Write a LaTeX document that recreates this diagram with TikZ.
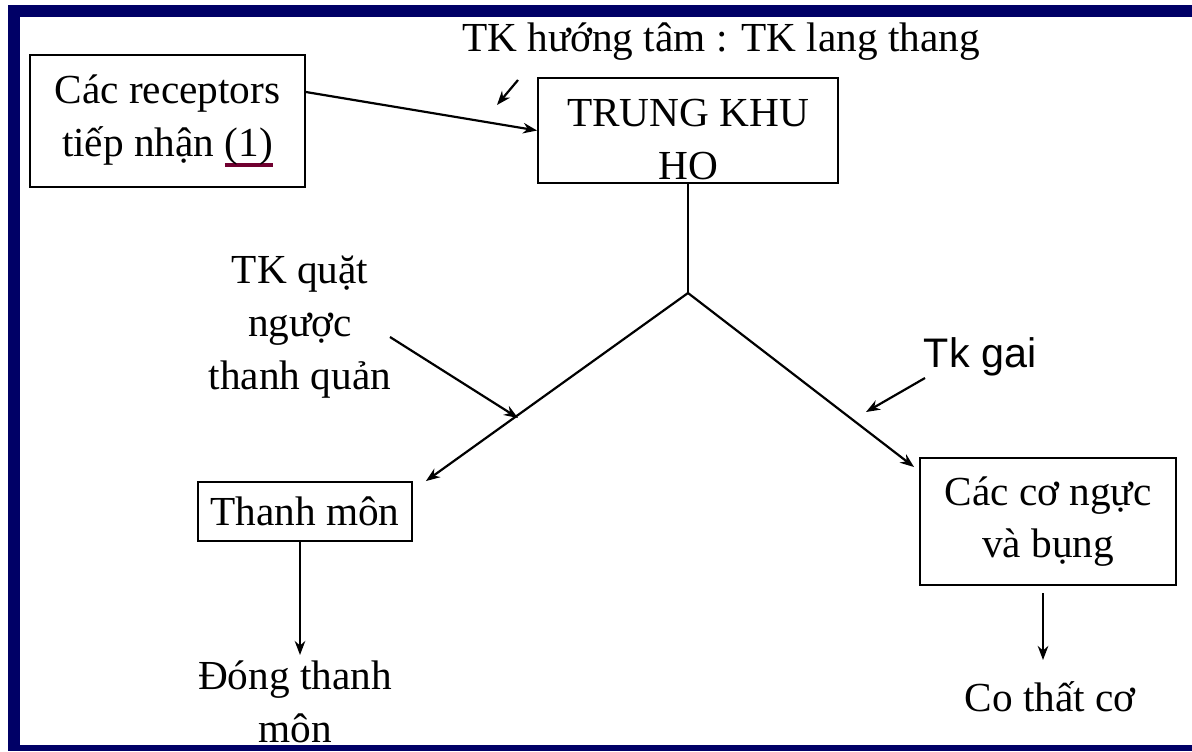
\documentclass[tikz,border=0pt]{standalone}
\usepackage{fontspec}
\setmainfont{Liberation Serif}
\newfontfamily\gaifont{Liberation Sans}
\usetikzlibrary{arrows.meta, positioning, calc}
\definecolor{framenavy}{RGB}{0, 0, 102}
\definecolor{markmaroon}{RGB}{112, 0, 48}
\newcommand{\redline}[1]{\setbox0=\hbox{#1}\rlap{\textcolor{markmaroon}{\rule[-6.5pt]{\wd0}{2.3pt}}}\box0}

\begin{document}
\begin{tikzpicture}[
  x=0.02cm, y=-0.02cm,
  every node/.style={font=\fontsize{23.5}{30}\selectfont, inner sep=0pt},
  box/.style={rectangle, draw, line width=1.1pt, align=center},
  note/.style={align=center},
  arr/.style={-{Stealth[length=8pt, width=6pt]}, line width=1.25pt},
  link/.style={line width=1.25pt}
]
  \useasboundingbox (0,0) rectangle (1192,751);
  % frame
  \fill[framenavy] (8,5) rectangle (1192,17);
  \fill[framenavy] (8,5) rectangle (20,751);
  \fill[framenavy] (8,745) rectangle (1192,751);

  % boxes
  \node[box, minimum width=5.5cm, minimum height=2.64cm] (recep) at (167.5,121) {Các receptors\\tiếp nhận \redline{(1)}};
  \node[box, minimum width=6cm, minimum height=2.1cm, text height=1.95cm] (trung) at (688,130.5) {TRUNG KHU\\HO};
  \node[box, minimum width=4.28cm, minimum height=1.18cm] (thanh) at (305,511.5) {Thanh môn};
  \node[box, minimum width=5.12cm, minimum height=2.54cm] (co) at (1048,521.5) {Các cơ ngực\\và bụng};

  % labels
  \node[note] (hutam) at (721,42) {TK hướng tâm : TK lang thang};
  \node[note] (quat) at (300,327) {TK quặt\\ngược\\thanh quản};
  \node[note, font=\fontsize{23.5}{30}\gaifont] (gai) at (980,357) {Tk gai};
  \node[note] (dong) at (295,702) {Đóng thanh\\môn};
  \node[note] (cothat) at (1050,697) {Co thất cơ};

  % points on the branches
  \coordinate (fork) at (688,293);
  \coordinate (htfrom) at (518,80);
  \coordinate (htto) at (497,105);
  \coordinate (quatfrom) at (390,337);
  \coordinate (quatto) at (518,418);
  \coordinate (gaifrom) at (925,378);
  \coordinate (gaito) at (866,412);
  \coordinate (thanhout) at (300,541);
  \coordinate (dongin) at (300,655);
  \coordinate (coout) at (1043,593);
  \coordinate (cothatin) at (1043,660);

  % arrows
  \draw[arr] ([yshift=0.58cm]recep.east) -- (trung.west);
  \draw[arr] (htfrom) -- (htto);
  \draw[link] (trung.south) -- (fork);
  \draw[arr] (fork) -- ([xshift=0.26cm]thanh.north east);
  \draw[arr] (fork) -- ([xshift=-0.1cm, yshift=-0.2cm]co.north west);
  \draw[arr] (quatfrom) -- (quatto);
  \draw[arr] (gaifrom) -- (gaito);
  \draw[arr] (thanhout) -- (dongin);
  \draw[arr] (coout) -- (cothatin);
\end{tikzpicture}
\end{document}
